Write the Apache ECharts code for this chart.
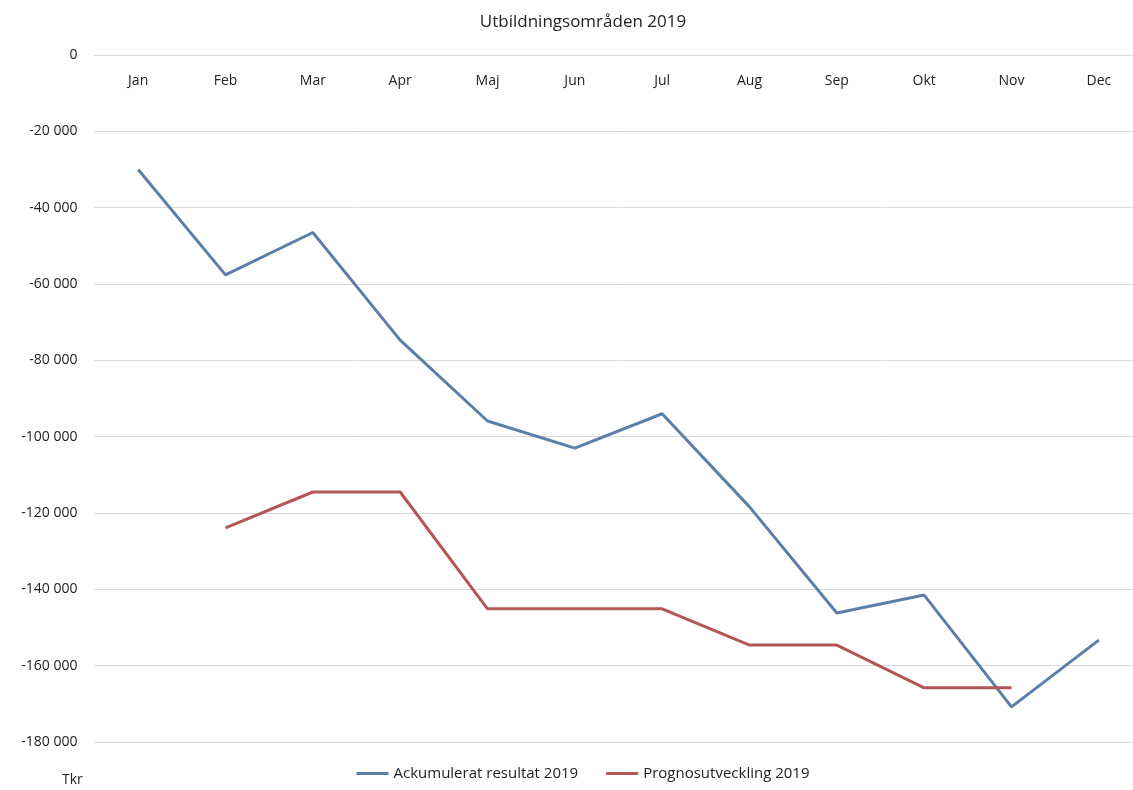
<!DOCTYPE html>
<html lang="sv">
<head>
    <meta charset="UTF-8">
    <title>Utbildningsområden 2019</title>
</head>
<body>
<div id="main"></div>
</body>

<style type="text/css" media="screen">
    html, body {
        width: 100%;
        height: 100%;
        overflow: hidden;
        margin: 0;
        background: #ffffff;
        font-family: "Open Sans", sans-serif;
    }

    #main {
        width: 1166px;
        height: 790px;
    }
</style>
<script src="https://cdn.jsdelivr.net/npm/echarts@6/dist/echarts.min.js"></script>
<script>
    // månader
    var months = ['Jan', 'Feb', 'Mar', 'Apr', 'Maj', 'Jun', 'Jul', 'Aug', 'Sep', 'Okt', 'Nov', 'Dec'];
    // Ackumulerat resultat 2019 (Tkr)
    var ackumulerat = [-30000, -57600, -46500, -74700, -95900, -103000, -94000, -118400, -146200, -141500, -170800, -153300];
    // Prognosutveckling 2019 (Tkr)
    var prognos = [null, -123900, -114500, -114500, -145100, -145100, -145100, -154600, -154600, -165800, -165800, null];

    var fontFam = '"Open Sans", sans-serif';

    function fmt(v) {
        var s = String(Math.abs(v)).replace(/\B(?=(\d{3})+(?!\d))/g, ' ');
        return (v < 0 ? '-' : '') + s;
    }

    // div is a bit wider than the window so the plot runs off the right edge like the original
    var myChart = echarts.init(document.getElementById('main'));
    var option = {
        backgroundColor: '#ffffff',
        animation: false,
        title: {
            text: 'Utbildningsområden 2019',
            left: 'center',
            top: 9,
            textStyle: {
                fontFamily: fontFam,
                fontSize: 17,
                fontWeight: 'normal',
                color: '#222'
            }
        },
        legend: {
            bottom: 4,
            left: 'center',
            icon: 'rect',
            itemWidth: 32,
            itemHeight: 3,
            itemGap: 28,
            itemStyle: {borderWidth: 0},
            textStyle: {
                fontFamily: fontFam,
                fontSize: 15,
                color: '#222'
            },
            data: ['Ackumulerat resultat 2019', 'Prognosutveckling 2019']
        },
        graphic: [{
            type: 'text',
            left: 62,
            top: 773,
            style: {
                text: 'Tkr',
                fontFamily: fontFam,
                fontSize: 14,
                fill: '#222'
            }
        }],
        grid: {
            left: 94.5,
            right: 23.5,
            top: 55,
            bottom: 48,
            containLabel: false
        },
        xAxis: {
            type: 'category',
            position: 'top',
            data: months,
            boundaryGap: true,
            axisLine: {onZero: false, lineStyle: {color: '#d9d9d9'}},
            axisTick: {show: false},
            axisLabel: {
                inside: true,
                margin: 19,
                fontFamily: fontFam,
                fontSize: 14,
                color: '#222'
            }
        },
        yAxis: {
            type: 'value',
            min: -180000,
            max: 0,
            interval: 20000,
            axisLine: {show: false},
            axisTick: {show: false},
            splitLine: {lineStyle: {color: '#d9d9d9'}},
            axisLabel: {
                margin: 17,
                fontFamily: fontFam,
                fontSize: 14,
                color: '#222',
                formatter: fmt
            }
        },
        series: [{
            name: 'Ackumulerat resultat 2019',
            type: 'line',
            data: ackumulerat,
            symbol: 'none',
            lineStyle: {width: 3, color: '#5a80aa'},
            itemStyle: {color: '#5a80aa'}
        }, {
            name: 'Prognosutveckling 2019',
            type: 'line',
            data: prognos,
            symbol: 'none',
            lineStyle: {width: 3, color: '#b55656'},
            itemStyle: {color: '#b55656'}
        }]
    };
    myChart.setOption(option);
</script>
</html>
